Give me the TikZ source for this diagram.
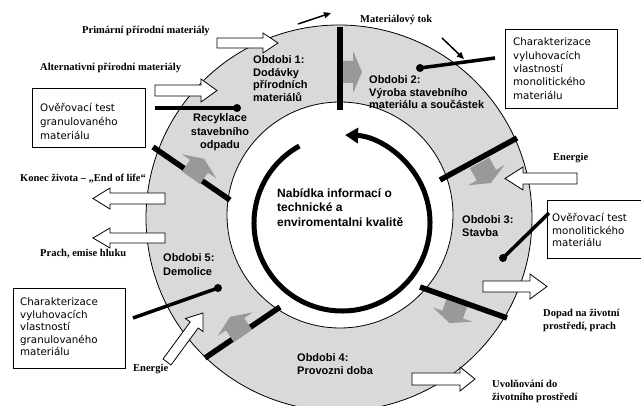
\documentclass[tikz,border=0pt]{standalone}
\usepackage{fontspec}
\setmainfont{Liberation Sans}
\newfontfamily\ringf{Liberation Sans}
\newfontfamily\timesf{Liberation Serif}
\newfontfamily\boxf{DejaVu Sans}
\usetikzlibrary{arrows.meta}
\definecolor{ringgray}{RGB}{217,217,217}
\definecolor{arrgray}{RGB}{153,153,153}
\newcommand\grayblk[2]{\begin{scope}[shift={#1},rotate=#2]
  \fill[arrgray] (-7,-11) -- (7,-11) -- (7,-21) -- (16,0) -- (7,21) -- (7,11) -- (-7,11) -- cycle;
\end{scope}}
\begin{document}
\begin{tikzpicture}[x=1pt,y=-1pt,
  ringlbl/.style={font=\ringf\bfseries\fontsize{11}{12.5}\selectfont, align=left, anchor=base west, inner sep=0pt},
  centerlbl/.style={font=\ringf\bfseries\fontsize{12}{14.5}\selectfont, align=left, anchor=base west, inner sep=0pt},
  outlbl/.style={font=\timesf\bfseries\fontsize{10.5}{12.5}\selectfont, align=left, anchor=base west, inner sep=0pt},
  boxlbl/.style={font=\boxf\fontsize{10.3}{13}\selectfont, align=left, anchor=base west, inner sep=0pt},
  infobox/.style={draw=black, line width=0.8pt, fill=white, anchor=north west, inner sep=0pt},
  bar/.style={line width=5.5pt},
  leader/.style={line width=3.5pt},
  dotend/.style={circle, fill=black, minimum size=8pt, inner sep=0pt},
  blockarr/.style={draw=black, fill=white, line width=0.8pt, line join=miter},
  flowarr/.style={line width=1.5pt, -{Triangle[length=7pt,width=6pt]}}
]
\useasboundingbox (0,0) rectangle (641,406);

% ring
\fill[ringgray] (339,218) circle[radius=193];
\draw[line width=0.8pt] (339,218) circle[radius=193];
\filldraw[fill=white, line width=0.8pt] (340,215) circle[radius=113];

% inner circular arrow
\draw[line width=5pt, -{Triangle[length=13pt,width=15pt]}]
  ([shift={(241:88)}]342,223) arc[start angle=241, end angle=-88, radius=88];

% gray flow arrows behind bars
\grayblk{(346,72)}{0}
\grayblk{(483,169)}{-61}
\grayblk{(455,308)}{-110}

% bars
\draw[bar] (340,27) -- (340,110);
\draw[bar] (440,180) -- (517,138);
\draw[bar] (420,287) -- (507,318);
\draw[bar] (205,358) -- (280,307);
\draw[bar] (153,147) -- (230,200);

% gray flow arrows over bars
\grayblk{(239,330)}{124}
\grayblk{(195,172)}{55}

% white block arrows
\draw[blockarr] (217,38) -- (263,38) -- (263,33) -- (278,43) -- (263,53) -- (263,48) -- (217,48) -- cycle;
\draw[blockarr] (155,85) -- (201,85) -- (201,79) -- (217,90.5) -- (201,102) -- (201,96) -- (155,96) -- cycle;
\draw[blockarr] (165,193) -- (110,193) -- (110,188) -- (93,198.5) -- (110,209) -- (110,204) -- (165,204) -- cycle;
\draw[blockarr] (165,233) -- (110,233) -- (110,228) -- (93,238) -- (110,248) -- (110,243) -- (165,243) -- cycle;
\draw[blockarr] (577,173) -- (523,173) -- (523,167) -- (505,178.5) -- (523,190) -- (523,184) -- (577,184) -- cycle;
\draw[blockarr] (483,281) -- (530,281) -- (530,274) -- (547,286.5) -- (530,299) -- (530,292) -- (483,292) -- cycle;
\draw[blockarr] (412,373) -- (460,373) -- (460,367) -- (475,379) -- (460,391) -- (460,385) -- (412,385) -- cycle;
\draw[blockarr] (163,359) -- (190.2,322) -- (185.4,318.5) -- (203,313) -- (203,331.5) -- (198.2,328) -- (171,365) -- cycle;

% material flow arrows
\coordinate (fa1) at (298,24);
\coordinate (fa2) at (331,13);
\coordinate (fb1) at (442,38);
\coordinate (fb2) at (464,59);
\draw[flowarr] (fa1) -- (fa2);
\draw[flowarr] (fb1) -- (fb2);

% ring labels (anchor = baseline of the last line)
\node[ringlbl] (p1) at (253,101.5) {Obdobi 1:\\Dodávky\\přírodních\\materiálů};
\node[ringlbl, align=center, anchor=base, font=\ringf\bfseries\fontsize{11}{13.5}\selectfont] (rec) at (220,149) {Recyklace\\stavebního\\odpadu};
\node[ringlbl] (p2) at (369,109) {Obdobi 2:\\Výroba stavebního\\materiálu a součástek};
\node[ringlbl] (p3) at (462,236.5) {Obdobi 3:\\Stavba};
\node[ringlbl] (p4) at (297,374.5) {Obdobi 4:\\Provozni doba};
\node[ringlbl, font=\ringf\bfseries\fontsize{11}{13.5}\selectfont] (p5) at (163,275.5) {Obdobi 5:\\Demolice};
\node[centerlbl] (info) at (277,226.5) {Nabídka informací o\\technické a\\enviromentalni kvalitě};

% outside labels
\node[outlbl] (lprim) at (82,34) {Primární přírodní materiály};
\node[outlbl] (lalt) at (40,71) {Alternativní přírodní materiály};
\node[outlbl] (ltok) at (360,23) {Materiálový tok};
\node[outlbl] (lenr) at (553,161) {Energie};
\node[outlbl] (lend) at (20,182) {Konec života – „End of life“};
\node[outlbl] (lprach) at (40,257) {Prach, emise hluku};
\node[outlbl] (ldopad) at (543,329.5) {Dopad na životní\\prostředí, prach};
\node[outlbl] (luvol) at (492,400.5) {Uvolňování do\\životního prostředí};
\node[outlbl] (lenl) at (133,372) {Energie};

% info boxes
\node[infobox, minimum width=113pt, minimum height=59pt] (bA) at (32,88) {};
\node[boxlbl, font=\boxf\fontsize{10.3}{14}\selectfont] (tA) at (40,140) {Ověřovací test\\granulovaného\\materiálu};
\node[infobox, minimum width=112pt, minimum height=79pt] (bB) at (505,29) {};
\node[boxlbl, font=\boxf\fontsize{10.3}{13.3}\selectfont] (tB) at (513,99.2) {Charakterizace\\vyluhovacích\\vlastností\\monolitického\\materiálu};
\node[infobox, minimum width=94pt, minimum height=58pt] (bC) at (547,200) {};
\node[boxlbl, font=\boxf\fontsize{10.3}{12.5}\selectfont] (tC) at (552,247) {Ověřovací test\\monolitického\\materiálu};
\node[infobox, minimum width=112pt, minimum height=80pt] (bD) at (13,288) {};
\node[boxlbl, font=\boxf\fontsize{10.3}{12.5}\selectfont] (tD) at (20,356) {Charakterizace\\vyluhovacích\\vlastností\\granulovaného\\materiálu};

% leaders with dots
\coordinate (lA) at (155,108);
\node[dotend] (dA) at (237,108) {};
\draw[leader] (lA) -- (dA.center);
\coordinate (lB) at (495,58);
\node[dotend] (dB) at (420,68) {};
\draw[leader] (lB) -- (dB.center);
\coordinate (lC) at (549,213);
\node[dotend] (dC) at (503,258) {};
\draw[leader] (lC) -- (dC.center);
\coordinate (lD) at (133,318);
\node[dotend] (dD) at (218,288) {};
\draw[leader] (lD) -- (dD.center);
\end{tikzpicture}
\end{document}
